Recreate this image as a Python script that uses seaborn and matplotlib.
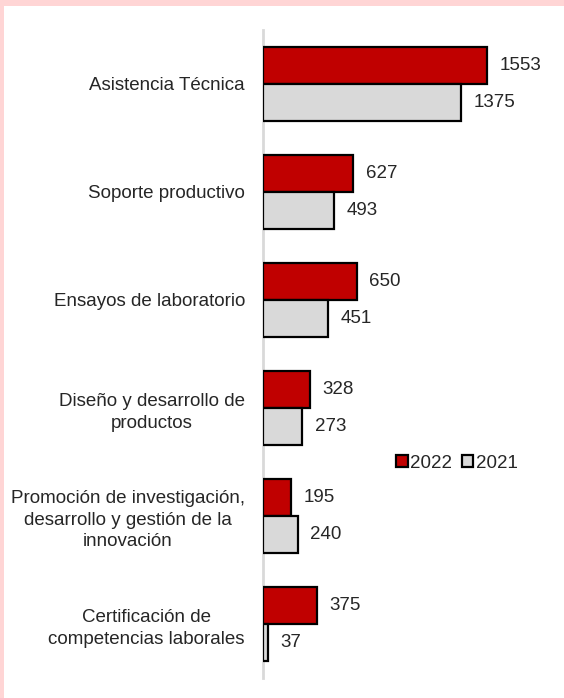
import matplotlib
matplotlib.use("Agg")
import matplotlib.pyplot as plt
import seaborn as sns
import pandas as pd
from matplotlib.patches import Patch

categories = [
    "Asistencia Técnica",
    "Soporte productivo",
    "Ensayos de laboratorio",
    "Diseño y desarrollo de\nproductos",
    "Promoción de investigación,\ndesarrollo y gestión de la\ninnovación",
    "Certificación de\ncompetencias laborales",
]
values_2022 = [1553, 627, 650, 328, 195, 375]
values_2021 = [1375, 493, 451, 273, 240, 37]
years = ["2022", "2021"]
colors = {"2022": "#C00000", "2021": "#D9D9D9"}

df = pd.DataFrame({
    "categoria": categories * 2,
    "valor": values_2022 + values_2021,
    "anio": ["2022"] * len(categories) + ["2021"] * len(categories),
})

sns.set_theme(style="white")
plt.rcParams["font.family"] = ["Liberation Sans", "DejaVu Sans"]

W, H = 564, 698
fig = plt.figure(figsize=(W / 100, H / 100), dpi=100)
fig.patch.set_facecolor("white")

# pink frame on top and left
fig.patches.append(plt.Rectangle((0, 1 - 6 / H), 1, 6 / H, transform=fig.transFigure,
                                 facecolor="#FFD5D5", edgecolor="none", zorder=0))
fig.patches.append(plt.Rectangle((0, 0), 4 / W, 1, transform=fig.transFigure,
                                 facecolor="#FFD5D5", edgecolor="none", zorder=0))

x0, x1 = 263, 560
y_top, y_bot = 30, 678
ax = fig.add_axes([x0 / W, (H - y_bot) / H, (x1 - x0) / W, (y_bot - y_top) / H])
ax.set_facecolor("none")

sns.barplot(data=df, y="categoria", x="valor", hue="anio", hue_order=years,
            palette=colors, saturation=1, orient="h", width=0.69, edgecolor="black",
            linewidth=1.6, ax=ax, legend=False, order=categories)

px_per_unit = 224 / 1553
ax.set_xlim(0, (x1 - x0) / px_per_unit)
ax.set_ylim(5.5, -0.5)

for cont in ax.containers:
    ax.bar_label(cont, labels=[f"{v:.0f}" for v in cont.datavalues], padding=9,
                 fontsize=13.5, color="#262626")

ax.set_xlabel("")
ax.set_ylabel("")
ax.set_xticks([])
ax.tick_params(axis="y", length=0, pad=13, labelsize=13.5, labelcolor="#262626")
for lbl in ax.get_yticklabels():
    lbl.set_horizontalalignment("right")
    lbl.set_multialignment("center")
    lbl.set_linespacing(1.35)
for s in ["top", "right", "bottom"]:
    ax.spines[s].set_visible(False)
ax.spines["left"].set_color("#D9D9D9")
ax.spines["left"].set_linewidth(2)
ax.spines["left"].set_zorder(0)

handles = [Patch(facecolor=colors[y], edgecolor="black", linewidth=1.6, label=y) for y in years]
fig.legend(handles=handles, loc="center", bbox_to_anchor=(457 / W, 1 - 463 / H), ncol=2,
           frameon=False, fontsize=13.5, handlelength=0.6, handleheight=0.6,
           handletextpad=0.15, columnspacing=0.5, labelcolor="#262626")

fig.savefig("out.png", dpi=100, facecolor="white")
